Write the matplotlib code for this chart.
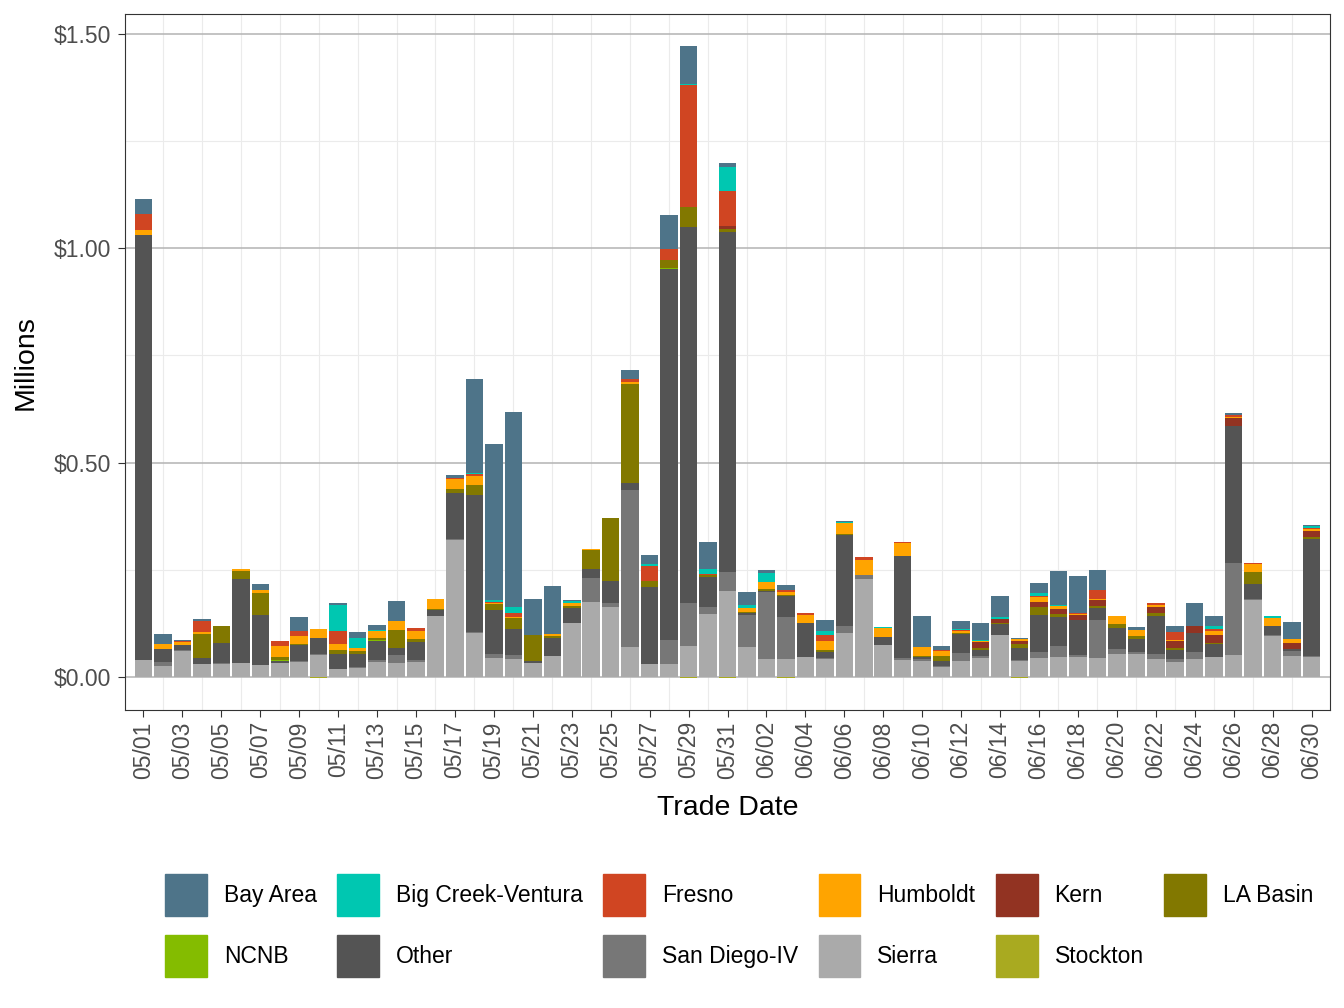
import matplotlib
matplotlib.use("Agg")
import matplotlib.pyplot as plt
import matplotlib.patches as mpatches
import numpy as np
import pandas as pd

plt.rcParams.update({
    "font.family": ["Liberation Sans", "DejaVu Sans"],
    "figure.facecolor": "white",
    "axes.facecolor": "white",
})

# trade dates 05/01 .. 06/30
dates = pd.date_range("2023-05-01", "2023-06-30", freq="D")
date_labels = [d.strftime("%m/%d") for d in dates]

# values in millions of dollars
bay_area = [.035, .023, .003, .005, 0, 0, .014, 0, .033, 0,
            .005, .016, .012, .047, 0, 0, .007, .218, .365, .456,
            .084, .112, .002, 0, 0, .023, .021, .079, .088, .063,
            .009, .030, .007, .012, 0, .026, .002, 0, 0, 0,
            .072, .009, .019, .040, .049, .002, .023, .079, .086, .047,
            0, .007, 0, .014, .053, .023, .005, 0, 0, .040, .002]
big_creek = [0, 0, 0, 0, 0, 0, 0, 0, 0, 0,
             .060, .023, .002, 0, 0, 0, 0, .003, .005, .014,
             0, 0, .005, 0, 0, 0, .005, 0, .004, .012,
             .057, .009, .021, 0, 0, .009, .002, 0, .002, 0,
             0, 0, .002, .002, .005, 0, .007, .002, 0, 0,
             0, 0, 0, 0, 0, .007, 0, 0, .005, 0, .005]
fresno = [.037, 0, .002, .026, 0, 0, 0, .012, .012, 0,
          .030, 0, 0, 0, .007, .002, .002, .004, .002, .009,
          0, 0, 0, 0, 0, .005, .035, .026, .284, .002,
          .080, 0, 0, .005, .005, .014, 0, .007, 0, .002,
          .002, .002, .002, 0, 0, 0, .002, 0, .002, .021,
          0, 0, .005, .019, .002, .005, .005, .002, 0, 0, .002]
humboldt = [.012, .012, .007, .005, 0, .005, .007, .026, .019, .023,
            .014, .007, .016, .021, .019, .023, .023, .021, .002, .002,
            0, .005, .007, .002, .002, .005, 0, 0, 0, 0,
            .002, .009, .016, .007, .019, .021, .026, .035, .021, .030,
            .019, .012, .005, .002, 0, .005, .012, .007, .002, .002,
            .019, .014, .005, .002, 0, .009, .002, .019, .019, .009, .005]
kern = [0, 0, 0, 0, 0, 0, 0, 0, 0, 0,
        0, 0, 0, 0, 0, 0, 0, 0, 0, 0,
        0, 0, 0, 0, 0, 0, 0, 0, 0, 0,
        .005, 0, 0, 0, 0, 0, 0, 0, 0, 0,
        0, 0, 0, .014, .009, .007, .012, .012, .012, .014,
        0, 0, .014, .016, .016, .019, .019, 0, 0, .014, .014]
la_basin = [0, 0, 0, .056, .040, .019, .051, .007, .002, 0,
            .009, .007, .005, .042, .007, .002, .009, .023, .014, .026,
            .060, .005, .005, .044, .147, .231, .014, .019, .047, .005,
            .009, .002, .005, .002, 0, .005, .002, 0, 0, 0,
            .003, .012, .002, .005, .002, .009, .019, .007, 0, .005,
            .009, .007, .007, .005, 0, .002, 0, .028, 0, 0, .005]
ncnb = [0, 0, 0, 0, 0, 0, 0, .002, 0, 0,
        0, 0, .002, 0, 0, 0, 0, 0, 0, 0,
        0, 0, 0, 0, 0, 0, 0, .002, 0, 0,
        0, 0, 0, 0, 0, 0, 0, 0, 0, 0,
        0, 0, 0, 0, 0, 0, 0, 0, 0, 0,
        0, 0, 0, 0, 0, 0, 0, 0, 0, 0, 0]
other = [.990, .030, .012, .014, .047, .195, .116, .005, .037, .037,
         .035, .030, .044, .016, .042, .014, .107, .321, .103, .061,
         .005, .042, .035, .023, .051, .018, .179, .865, .877, .070,
         .793, .005, .002, .049, .079, .014, .214, .002, .019, .237,
         .005, .012, .044, .014, .026, .028, .086, .067, .081, .028,
         .049, .030, .088, .021, .044, .030, .318, .035, .021, .005, .272]
san_diego = [0, .009, .002, 0, .002, 0, 0, 0, .002, .002,
             0, .002, .005, .019, .005, 0, .004, .002, .009, .009,
             0, 0, 0, .056, .009, .365, 0, .056, .100, .016,
             .044, .074, .156, .098, 0, .002, .016, .009, 0, .005,
             .005, .002, .019, .005, 0, .002, .014, .026, .005, .088,
             .012, .005, .012, .007, .016, 0, .216, .002, .002, .012, .002]
sierra = [.040, .026, .060, .030, .030, .033, .028, .033, .035, .051,
          .019, .021, .035, .033, .035, .142, .319, .102, .044, .042,
          .033, .049, .126, .174, .163, .070, .030, .030, .072, .147,
          .200, .070, .042, .042, .047, .042, .102, .228, .074, .040,
          .037, .023, .037, .044, .098, .037, .044, .047, .047, .044,
          .053, .053, .042, .035, .042, .047, .051, .179, .095, .049, .047]
stockton = [0, 0, 0, 0, 0, 0, 0, 0, 0, -.003,
            0, 0, 0, 0, 0, 0, 0, 0, 0, 0,
            0, 0, 0, 0, 0, 0, 0, 0, -.003, 0,
            -.003, 0, 0, -.003, 0, 0, 0, 0, 0, 0,
            0, 0, 0, 0, 0, -.003, 0, 0, 0, 0,
            0, 0, 0, 0, 0, 0, 0, 0, 0, 0, 0]

regions = ["Bay Area", "Big Creek-Ventura", "Fresno", "Humboldt", "Kern", "LA Basin",
           "NCNB", "Other", "San Diego-IV", "Sierra", "Stockton"]
series = [bay_area, big_creek, fresno, humboldt, kern, la_basin,
          ncnb, other, san_diego, sierra, stockton]
colors = ["#4E7489", "#00C7B1", "#D04522", "#FFA400", "#923322", "#827800",
          "#84BC00", "#545454", "#777777", "#AAAAAA", "#A9AA20"]

fig = plt.figure(figsize=(13.44, 10.08), dpi=100)
ax = fig.add_axes([0.093, 0.2956, 0.8966, 0.6904])

x = np.arange(len(dates))
pos_bottom = np.zeros(len(x))
neg_bottom = np.zeros(len(x))
# ggplot stacks the last level at the bottom
for name, vals, col in reversed(list(zip(regions, series, colors))):
    v = np.array(vals, dtype=float)
    pos = np.where(v > 0, v, 0)
    neg = np.where(v < 0, v, 0)
    ax.bar(x, pos, width=0.9, bottom=pos_bottom, color=col, linewidth=0, zorder=3)
    ax.bar(x, neg, width=0.9, bottom=neg_bottom, color=col, linewidth=0, zorder=3)
    pos_bottom += pos
    neg_bottom += neg

# grid
for yv in [0.25, 0.75, 1.25]:
    ax.axhline(yv, color="#EBEBEB", lw=0.8, zorder=1)
for xv in x[1::2]:
    ax.axvline(xv, color="#EBEBEB", lw=0.8, zorder=1)
for yv in [0, 0.5, 1.0, 1.5]:
    ax.axhline(yv, color="#B3B3B3", lw=1.1, zorder=2)

ax.set_xlim(-0.95, 60.95)
ax.set_ylim(-0.077, 1.546)

ax.set_xticks(x[::2])
ax.set_xticklabels(date_labels[::2], rotation=90, fontsize=16.5, color="#4D4D4D")
ax.set_yticks([0, 0.5, 1.0, 1.5])
ax.set_yticklabels(["$0.00", "$0.50", "$1.00", "$1.50"], fontsize=16.5, color="#4D4D4D")
ax.tick_params(axis="y", length=5, width=0.8, color="#333333", pad=5)
ax.tick_params(axis="x", length=5, width=0.8, color="#333333", pad=3)

for sp in ax.spines.values():
    sp.set_color("#333333")
    sp.set_linewidth(0.8)

ax.set_xlabel("Trade Date", fontsize=20.5, labelpad=12)
ax.set_ylabel("Millions", fontsize=20.5, labelpad=11)

# legend, row-major order
order = [0, 6, 1, 7, 2, 8, 3, 9, 4, 10, 5]
handles = [mpatches.Patch(color=colors[i], label=regions[i]) for i in order]
fig.legend(handles=handles, loc="center", bbox_to_anchor=(0.55, 0.082), ncol=6,
           frameon=False, fontsize=16.5, handlelength=1.83, handleheight=2.44,
           handletextpad=0.74, columnspacing=0.88, labelspacing=0.83)

plt.savefig("out.png", dpi=100, facecolor="white")
plt.close()
